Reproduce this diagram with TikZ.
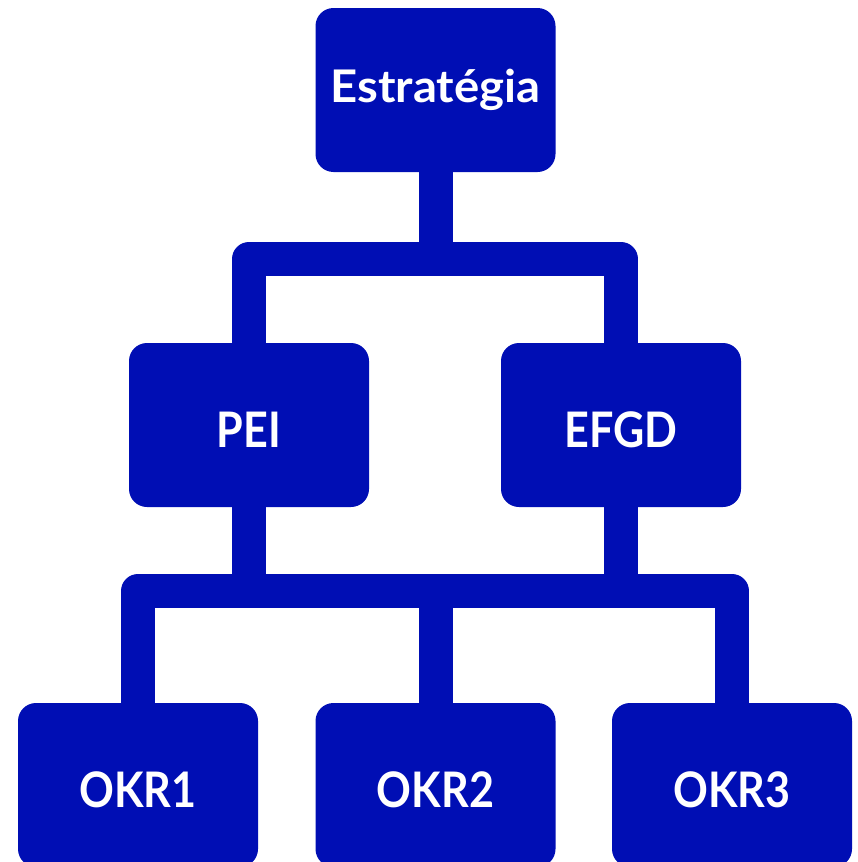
\documentclass[tikz,border=0pt]{standalone}
\usepackage{fontspec}
\setmainfont{Lato}
\newfontfamily\narrowlabel[FakeStretch=0.88]{Lato}
\newfontfamily\widelabel[FakeStretch=1.05]{Lato}
\definecolor{orgblue}{RGB}{0,14,180}
\tikzset{
  orgbox/.style={fill=orgblue, draw=none, rounded corners=18pt,
    minimum width=240pt, minimum height=164pt, inner sep=0pt,
    text=white, font=\narrowlabel\fontsize{49}{49}\selectfont\bfseries,
    text height=44pt, text depth=0pt, align=center},
  topbox/.style={orgbox, font=\widelabel\fontsize{45}{45}\selectfont\bfseries,
    text height=24pt},
  link/.style={draw=orgblue, line width=34pt, line join=round, line cap=butt}
}
\begin{document}
\begin{tikzpicture}[x=1pt,y=-1pt]
  \useasboundingbox (0,0) rectangle (857,862);

  % boxes
  \node[topbox] (estr) at (435.5,90) {Estratégia};
  \node[orgbox] (pei)  at (249,425)  {PEI};
  \node[orgbox] (efgd) at (621,425)  {EFGD};
  \node[orgbox] (okr1) at (138,785)  {OKR1};
  \node[orgbox] (okr2) at (435.5,785) {OKR2};
  \node[orgbox] (okr3) at (732,785)  {OKR3};

  % heights of the two horizontal branches
  \coordinate (upper) at (0,259);
  \coordinate (lower) at (0,591);

  % upper branch
  \draw[link] (estr.south) -- (estr.south |- upper);
  \draw[link] (pei.north) -- (pei.north |- upper) -- (efgd.north |- upper) -- (efgd.north);

  % lower branch
  \draw[link] (pei.south) -- (pei.south |- lower);
  \draw[link] (efgd.south) -- (efgd.south |- lower);
  \draw[link] (okr1.north) -- (okr1.north |- lower) -- (okr3.north |- lower) -- (okr3.north);
  \draw[link] (okr2.north) -- (okr2.north |- lower);
\end{tikzpicture}
\end{document}
